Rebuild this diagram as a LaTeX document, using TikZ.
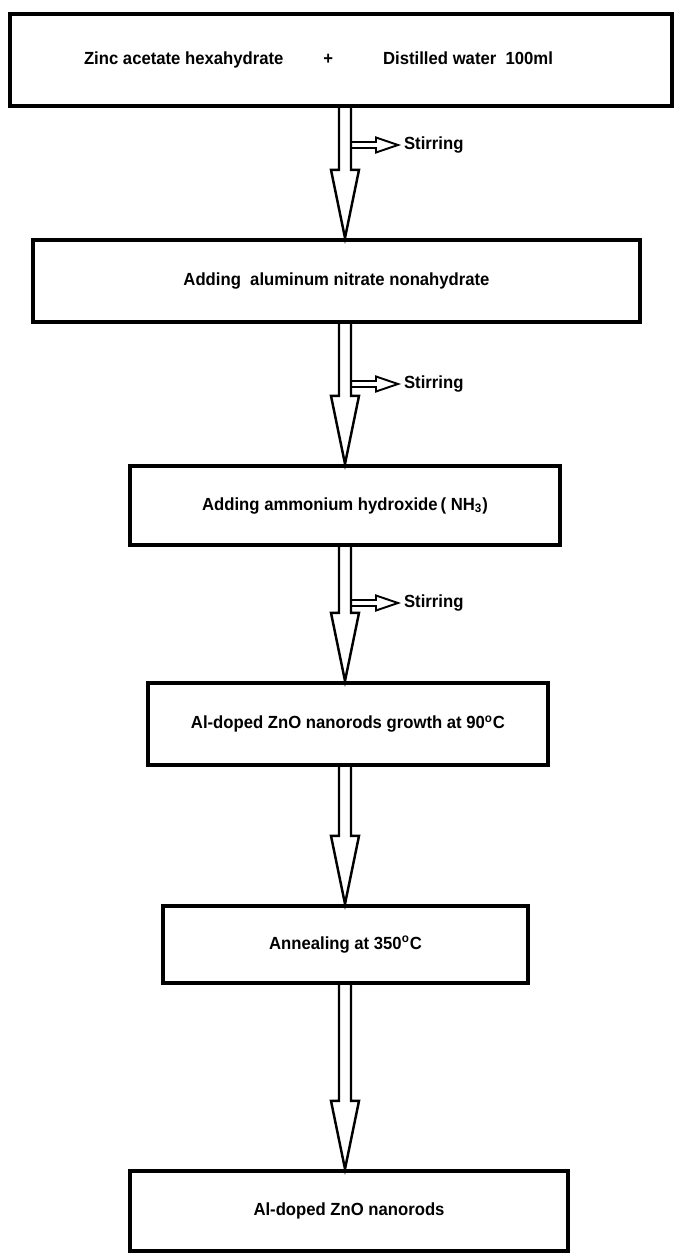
\documentclass[tikz,border=0pt]{standalone}
\usepackage{fontspec}
\setmainfont{Liberation Sans}[FakeStretch=0.95]
\usetikzlibrary{calc}
\tikzset{
  stagebox/.style={draw=black,line width=2.4pt,fill=white,align=center,
    inner sep=0pt,font=\bfseries\fontsize{10}{12}\selectfont},
  hollow/.style={draw=black,line width=1.4pt,line join=miter},
  sidehollow/.style={draw=black,line width=1.1pt,line join=miter},
  note/.style={anchor=west,inner sep=1pt,font=\bfseries\fontsize{10}{12}\selectfont}
}
% big hollow arrow: #1 start on upper box, #2 tip on lower box
\newcommand{\mainarrow}[2]{%
  \draw[hollow] let \p1=(#1), \p2=(#2) in
    (\x1-0.12cm,\y1) -- (\x1-0.12cm,\y2+1.36cm) -- (\x1-0.28cm,\y2+1.36cm)
    -- (\x1,\y2) -- (\x1+0.28cm,\y2+1.36cm) -- (\x1+0.12cm,\y2+1.36cm)
    -- (\x1+0.12cm,\y1);}
% small hollow side arrow from the shaft, #1 start, #2 label name
\newcommand{\sidearrow}[2]{%
  \draw[sidehollow] let \p1=(#1) in
    (\x1,\y1+0.06cm) -- (\x1+0.5cm,\y1+0.06cm) -- (\x1+0.5cm,\y1+0.15cm)
    -- (\x1+0.94cm,\y1) -- (\x1+0.5cm,\y1-0.15cm) -- (\x1+0.5cm,\y1-0.06cm)
    -- (\x1,\y1-0.06cm);
  \path let \p1=(#1) in node[note] (#2) at (\x1+1.02cm,\y1) {Stirring};}

\begin{document}
\begin{tikzpicture}[x=0.02cm,y=-0.02cm]
  \useasboundingbox[fill=white] (0,0) rectangle (679,1253);
  \coordinate (ax) at (345,0);

  \node[stagebox,minimum width=13.24cm,minimum height=1.84cm] (zinc) at (341,60)
    {Zinc acetate hexahydrate\hspace{0.8cm}+\hspace{1.0cm}Distilled water\ \ 100ml\hspace{0.9cm}};
  \node[stagebox,minimum width=12.14cm,minimum height=1.64cm] (alnit) at (336.5,281)
    {Adding\ \ aluminum nitrate nonahydrate};
  \node[stagebox,minimum width=8.6cm,minimum height=1.58cm] (ammon) at (345,505.5)
    {Adding ammonium hydroxide\,( NH\textsubscript{3})};
  \node[stagebox,minimum width=8.0cm,minimum height=1.64cm] (growth) at (348,724)
    {Al-doped ZnO nanorods growth at 90\textsuperscript{o}C};
  \node[stagebox,minimum width=7.3cm,minimum height=1.54cm] (anneal) at (345.5,944.5)
    {Annealing at 350\textsuperscript{o}C};
  \node[stagebox,minimum width=8.76cm,minimum height=1.6cm] (rods) at (349,1211)
    {Al-doped ZnO nanorods};

  \mainarrow{zinc.south -| ax}{alnit.north -| ax}
  \mainarrow{alnit.south -| ax}{ammon.north -| ax}
  \mainarrow{ammon.south -| ax}{growth.north -| ax}
  \mainarrow{growth.south -| ax}{anneal.north -| ax}
  \mainarrow{anneal.south -| ax}{rods.north -| ax}

  \coordinate (stir1) at (351,145);
  \coordinate (stir2) at (351,384);
  \coordinate (stir3) at (351,603);
  \sidearrow{stir1}{lab1}
  \sidearrow{stir2}{lab2}
  \sidearrow{stir3}{lab3}
\end{tikzpicture}
\end{document}
